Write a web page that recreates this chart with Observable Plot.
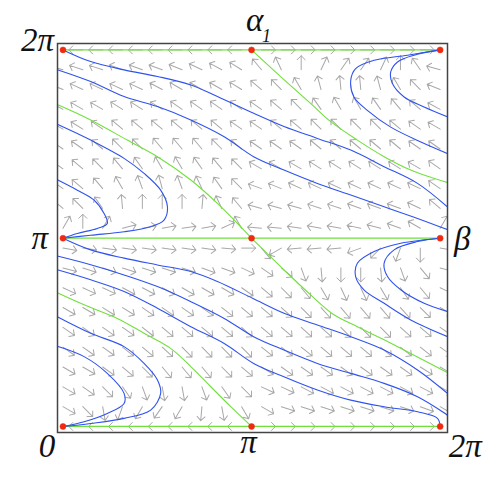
<!DOCTYPE html>
<html><head><meta charset="utf-8">
<script src="https://cdn.jsdelivr.net/npm/d3@7"></script>
<script src="https://cdn.jsdelivr.net/npm/@observablehq/plot@0.6"></script>
<style>html,body{margin:0;padding:0;background:#fff;overflow:hidden}</style>
</head><body><div id="chart"></div>
<script>
const PI = Math.PI;
// Everything below is in units of π.
const xDomain = [-0.029, 2.039];
const yDomain = [-0.032, 2.034];
// sample grid of the direction field: 20 points across [0, 2π]
const gridCount = 20;
// arrow directions (degrees, counter-clockwise from east), rows from y=0 up to y=2π, columns from x=0 to 2π
const arrowAngles = [
  [null,180,180,180,180,180,180,180,180,180,0,0,0,0,0,0,0,0,0,null],
  [-30,-45,-80,-110,-120,-125,-120,-95,-80,-60,-30,-18,-18,-18,-18,-18,-18,-18,-20,-30],
  [-30,-35,-45,-55,-70,-80,-80,-70,-55,-45,-25,-25,-28,-28,-28,-28,-28,-28,-28,-30],
  [-30,-30,-35,-40,-45,-50,-50,-50,-45,-40,-32,-35,-35,-35,-35,-35,-35,-35,-32,-30],
  [-35,-35,-35,-38,-40,-42,-45,-45,-45,-45,-38,-38,-38,-40,-40,-40,-40,-38,-38,-35],
  [-35,-35,-35,-35,-38,-40,-40,-40,-40,-42,-40,-40,-42,-42,-45,-45,-45,-42,-40,-35],
  [-30,-30,-32,-32,-35,-35,-35,-35,-38,-40,-40,-42,-45,-48,-50,-50,-50,-48,-45,-30],
  [-25,-25,-25,-28,-28,-28,-30,-30,-30,-35,-40,-45,-50,-60,-65,-65,-60,-55,-50,-25],
  [-15,-18,-18,-18,-18,-18,-18,-20,-20,-25,-35,-40,-70,-85,-90,-90,-85,-70,-50,-15],
  [-10,-8,-8,-8,-8,-8,-8,-8,-5,0,-50,-150,-175,-175,-175,-160,-135,-110,-90,-10],
  [60,90,60,15,10,10,8,10,25,120,175,175,172,170,170,168,165,160,150,60],
  [140,135,125,95,90,90,90,85,115,130,165,165,165,162,162,160,160,160,155,140],
  [145,140,130,120,110,105,110,115,125,135,160,158,155,155,155,155,155,155,155,145],
  [145,140,135,130,125,120,120,125,130,135,150,150,150,148,148,148,148,148,150,145],
  [145,145,140,135,135,130,130,130,135,140,145,145,145,140,140,140,140,140,145,145],
  [150,148,145,140,140,140,140,140,140,145,145,140,140,135,135,135,135,140,145,150],
  [152,150,150,148,148,148,145,145,145,145,145,140,135,125,120,120,125,130,140,152],
  [158,155,155,155,155,152,150,150,150,148,140,135,120,105,95,95,105,120,135,158],
  [165,162,162,160,160,160,158,155,152,148,130,115,90,65,55,55,65,90,125,165],
  [null,180,180,180,180,180,180,180,180,180,0,0,0,0,0,0,0,0,0,null]
];
// fixed points
const fixedX = [0, 1, 2];
const fixedY = [0, 1, 2];
// invariant horizontal lines
const invariantY = [0, 1, 2];
// separatrices (green)
const greenThroughCenter = [[-0.03,1.71],[0.147,1.628],[0.341,1.521],[0.501,1.433],[0.678,1.309],[0.819,1.185],[0.926,1.078],[1,1],[1.172,0.832],[1.313,0.699],[1.437,0.593],[1.561,0.530],[1.703,0.460],[1.844,0.388],[2.04,0.285]];
const greenLower = [[-0.03,0.71],[0.112,0.646],[0.288,0.574],[0.430,0.495],[0.571,0.415],[0.678,0.318],[0.784,0.211],[0.890,0.105],[1,0]];
const greenUpper = [[1,2],[1.154,1.858],[1.313,1.716],[1.420,1.619],[1.561,1.521],[1.703,1.433],[1.844,1.362],[2.04,1.295]];
// trajectories (blue)
const blueUL1 = [[0,2],[0.147,1.938],[0.324,1.894],[0.501,1.859],[0.678,1.814],[0.819,1.752],[1.011,1.663],[1.172,1.593],[1.349,1.530],[1.526,1.468],[1.703,1.380],[1.880,1.291],[2.04,1.165]];
const blueUL2 = [[-0.03,1.895],[0.147,1.832],[0.324,1.752],[0.501,1.699],[0.678,1.628],[0.855,1.539],[1.011,1.433],[1.172,1.362],[1.349,1.291],[1.526,1.229],[1.703,1.167],[1.880,1.105],[2.04,1.045]];
const blueUL3 = [[-0.03,1.605],[0.147,1.521],[0.324,1.424],[0.430,1.344],[0.518,1.255],[0.554,1.167],[0.536,1.096],[0.465,1.061],[0.324,1.034],[0.147,1.016],[0,1]];
const blueUL4 = [[-0.03,1.31],[0.076,1.255],[0.165,1.202],[0.218,1.131],[0.235,1.078],[0.182,1.052],[0.076,1.025],[0,1]];
const blueLL1 = [[0,1],[0.147,0.938],[0.324,0.894],[0.501,0.858],[0.678,0.823],[0.819,0.770],[1.005,0.681],[1.172,0.601],[1.349,0.539],[1.526,0.477],[1.703,0.406],[1.880,0.300],[2.04,0.175]];
const blueLL2 = [[-0.03,0.905],[0.147,0.859],[0.324,0.805],[0.501,0.743],[0.678,0.663],[0.855,0.574],[1.011,0.477],[1.172,0.406],[1.349,0.335],[1.526,0.282],[1.703,0.229],[1.880,0.158],[2.04,0.06]];
const blueLL3 = [[-0.03,0.832],[0.147,0.779],[0.324,0.717],[0.501,0.628],[0.678,0.530],[0.855,0.441],[1.011,0.335],[1.172,0.264],[1.349,0.194],[1.526,0.140],[1.703,0.105],[1.880,0.078],[1.986,0.043],[2,0]];
const blueLL4 = [[-0.03,0.583],[0.147,0.495],[0.324,0.424],[0.430,0.335],[0.501,0.247],[0.518,0.176],[0.465,0.087],[0.324,0.043],[0.147,0.016],[0,0]];
const blueLL5 = [[-0.03,0.426],[0.112,0.371],[0.235,0.282],[0.324,0.176],[0.324,0.122],[0.235,0.069],[0.112,0.025],[0,0]];
const blueUR1 = [[2,2],[1.827,1.972],[1.650,1.945],[1.552,1.901],[1.526,1.839],[1.543,1.750],[1.614,1.679],[1.738,1.590],[1.898,1.511],[2.04,1.449]];
const blueUR2 = [[2,2],[1.862,1.972],[1.774,1.936],[1.738,1.883],[1.747,1.821],[1.809,1.750],[1.915,1.697],[2.04,1.644]];
const blueLR1 = [[2,1],[1.915,0.991],[1.791,0.973],[1.650,0.929],[1.561,0.867],[1.552,0.796],[1.596,0.726],[1.703,0.654],[1.844,0.566],[2.04,0.477]];
const blueLR2 = [[2,1],[1.880,0.982],[1.756,0.938],[1.703,0.867],[1.721,0.796],[1.791,0.726],[1.915,0.654],[2.04,0.61]];
// labels
const xTickValues = [0, 1, 2];
const xTickText = ["0", "π", "2π"];
const yTickValues = [1, 2];
const yTickText = ["π", "2π"];
const topLabel = ["α", "1"];
const rightLabel = "β";

// ---- build tables ----
const gridVals = d3.range(gridCount).map(k => k * 2 / (gridCount - 1));
const arrows = [];
arrowAngles.forEach((row, j) => row.forEach((a, i) => {
  if (a != null) arrows.push({x: gridVals[i] * PI, y: gridVals[j] * PI, rot: 90 - a});
}));
const toRows = (arr, id) => arr.map(([x, y]) => ({x: x * PI, y: y * PI, id}));
const greens = [
  ...toRows(greenThroughCenter, "g1"), ...toRows(greenLower, "g2"), ...toRows(greenUpper, "g3")
];
const blues = [
  ...toRows(blueUL1, "a"), ...toRows(blueUL2, "b"), ...toRows(blueUL3, "c"), ...toRows(blueUL4, "d"),
  ...toRows(blueLL1, "e"), ...toRows(blueLL2, "f"), ...toRows(blueLL3, "g"), ...toRows(blueLL4, "h"),
  ...toRows(blueLL5, "i"), ...toRows(blueUR1, "j"), ...toRows(blueUR2, "k"), ...toRows(blueLR1, "l"),
  ...toRows(blueLR2, "m")
];
const fixed = fixedX.flatMap(x => fixedY.map(y => ({x: x * PI, y: y * PI})));
const GREEN = "#70e03c", BLUE = "#2f52ee", RED = "#f02a10";
const font = "'Liberation Serif','Times New Roman',serif";

const chart = Plot.plot({
  width: 491, height: 478,
  marginLeft: 57, marginRight: 44, marginTop: 43, marginBottom: 46,
  x: {domain: xDomain.map(d => d * PI), axis: null},
  y: {domain: yDomain.map(d => d * PI), axis: null},
  style: {fontFamily: font, background: "white", overflow: "visible"},
  marks: [
    Plot.vector(arrows, {x: "x", y: "y", rotate: "rot", length: 14, r: 5, anchor: "start", stroke: "#a8a8a8", strokeWidth: 1, clip: true}),
    Plot.ruleY(invariantY.map(v => v * PI), {x1: 0, x2: 2 * PI, stroke: GREEN, strokeWidth: 1.3}),
    Plot.line(greens, {x: "x", y: "y", z: "id", stroke: GREEN, strokeWidth: 1.1, curve: "catmull-rom", clip: true}),
    Plot.line(blues, {x: "x", y: "y", z: "id", stroke: BLUE, strokeWidth: 1.1, curve: "catmull-rom", clip: true}),
    Plot.dot(fixed, {x: "x", y: "y", r: 3, fill: RED, stroke: RED, strokeWidth: 0.5}),
    Plot.frame({stroke: "#444", strokeWidth: 1.5}),
    // bottom tick labels
    Plot.text([xTickText[0]], {x: () => xTickValues[0] * PI, y: () => 0, dx: -16, dy: 20, fontSize: 33, fontStyle: "italic", fill: "#111"}),
    Plot.text([xTickText[1]], {x: () => xTickValues[1] * PI, y: () => 0, dx: -3, dy: 16, fontSize: 33, fontStyle: "italic", fill: "#111"}),
    Plot.text([xTickText[2]], {x: () => xTickValues[2] * PI, y: () => 0, dx: 25, dy: 20, fontSize: 33, fontStyle: "italic", fill: "#111"}),
    // left tick labels
    Plot.text([yTickText[0]], {x: () => 0, y: () => yTickValues[0] * PI, dx: -15, dy: 0, textAnchor: "end", fontSize: 33, fontStyle: "italic", fill: "#111"}),
    Plot.text([yTickText[1]], {x: () => 0, y: () => yTickValues[1] * PI, dx: -9, dy: -9, textAnchor: "end", fontSize: 33, fontStyle: "italic", fill: "#111"}),
    // fixed-point labels
    Plot.text([topLabel[0]], {x: () => PI, y: () => 2 * PI, dx: 3, dy: -29, fontSize: 33, fontStyle: "italic", fill: "#111"}),
    Plot.text([topLabel[1]], {x: () => PI, y: () => 2 * PI, dx: 15, dy: -14, fontSize: 18, fontStyle: "italic", fill: "#111"}),
    Plot.text([rightLabel], {x: () => 2 * PI, y: () => PI, dx: 22, dy: 1, fontSize: 33, fontStyle: "italic", fill: "#111"})
  ]
});
document.getElementById("chart").appendChild(chart);
</script>
</body></html>
